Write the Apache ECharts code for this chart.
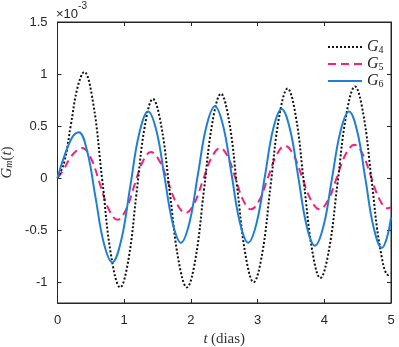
<!DOCTYPE html>
<html>
<head>
<meta charset="utf-8">
<script src="https://cdn.jsdelivr.net/npm/echarts@6/dist/echarts.min.js"></script>
<style>
  html, body { margin: 0; padding: 0; background: #fff; }
  #main { width: 399px; height: 347px; }
</style>
</head>
<body>
<div id="main"></div>
<script>
// valores en unidades de 1e-3, [t (dias), G]
var g4 = [
  [0,0],[0.1,0.15],[0.2,0.51],[0.3,0.87],[0.4,1.02],
  [0.535,0.72],[0.67,-0.015],[0.805,-0.75],[0.94,-1.05],
  [1.063,-0.785],[1.185,-0.145],[1.308,0.495],[1.43,0.76],
  [1.558,0.495],[1.685,-0.145],[1.813,-0.785],[1.94,-1.05],
  [2.068,-0.778],[2.195,-0.12],[2.323,0.538],[2.45,0.81],
  [2.573,0.545],[2.695,-0.095],[2.818,-0.735],[2.94,-1.0],
  [3.068,-0.728],[3.195,-0.07],[3.323,0.588],[3.45,0.86],
  [3.573,0.593],[3.695,-0.05],[3.818,-0.693],[3.94,-0.96],
  [4.07,-0.69],[4.2,-0.04],[4.33,0.61],[4.46,0.88],
  [4.585,0.615],[4.71,-0.025],[4.835,-0.665],[4.96,-0.93],
  [5,-0.915]
];
var g5 = [
  [0,0],[0.09,0.08],[0.185,0.19],[0.28,0.26],[0.37,0.29],
  [0.503,0.189],[0.635,-0.055],[0.768,-0.299],[0.9,-0.4],
  [1.025,-0.305],[1.15,-0.075],[1.275,0.155],[1.4,0.25],
  [1.53,0.164],[1.66,-0.043],[1.79,-0.249],[1.92,-0.335],
  [2.05,-0.243],[2.18,-0.023],[2.31,0.198],[2.44,0.29],
  [2.555,0.204],[2.67,-0.005],[2.785,-0.214],[2.9,-0.3],
  [3.028,-0.211],[3.155,0.005],[3.283,0.221],[3.41,0.31],
  [3.54,0.221],[3.67,0.005],[3.8,-0.211],[3.93,-0.3],
  [4.06,-0.209],[4.19,0.01],[4.32,0.229],[4.45,0.32],
  [4.575,0.231],[4.7,0.015],[4.825,-0.201],[4.95,-0.29],
  [5,-0.28]
];
var g6 = [
  [0,0],[0.08,0.17],[0.16,0.31],[0.24,0.41],[0.32,0.44],
  [0.445,0.257],[0.57,-0.185],[0.695,-0.627],[0.82,-0.81],
  [0.955,-0.598],[1.09,-0.085],[1.225,0.428],[1.36,0.64],
  [1.483,0.455],[1.605,0.01],[1.728,-0.435],[1.85,-0.62],
  [1.978,-0.428],[2.105,0.035],[2.233,0.498],[2.36,0.69],
  [2.485,0.498],[2.61,0.035],[2.735,-0.428],[2.86,-0.62],
  [2.985,-0.432],[3.11,0.02],[3.235,0.477],[3.36,0.665],
  [3.485,0.472],[3.61,0.01],[3.735,-0.457],[3.86,-0.65],
  [3.988,-0.461],[4.115,-0.005],[4.243,0.451],[4.37,0.64],
  [4.494,0.448],[4.618,-0.015],[4.741,-0.478],[4.865,-0.67],
  [4.94,-0.57],[5,-0.38]
];
var yTicks = [-1, -0.5, 0, 0.5, 1, 1.5];
var nombres = ['G4', 'G5', 'G6'];

var ejeColor = '#262626';
var serif = '"Liberation Serif", "DejaVu Serif", serif';
var sans = '"Liberation Sans", Arial, sans-serif';

var chart = echarts.init(document.getElementById('main'));

chart.setOption({
  animation: false,
  grid: {
    left: 57.5, right: 8, top: 22, bottom: 44,
    outerBoundsMode: 'none',
    containLabel: false,
    show: true, borderColor: ejeColor, borderWidth: 1, backgroundColor: 'transparent'
  },
  legend: {
    orient: 'vertical',
    left: 322,
    top: 34,
    itemWidth: 34,
    itemHeight: 12,
    itemGap: 1,
    data: nombres,
    itemStyle: { opacity: 0 },
    formatter: function (n) {
      return '{g|G}{s|' + n.slice(1) + '}';
    },
    textStyle: {
      rich: {
        g: { fontFamily: serif, fontStyle: 'italic', fontSize: 16, color: '#222', verticalAlign: 'bottom', lineHeight: 16 },
        s: { fontFamily: serif, fontSize: 10, color: '#222', verticalAlign: 'bottom', lineHeight: 12 }
      }
    }
  },
  graphic: [{
    type: 'text',
    left: 56,
    top: 1,
    style: {
      text: '{a|×10}{b|-3}',
      rich: {
        a: { fontFamily: sans, fontSize: 13, fill: ejeColor, verticalAlign: 'bottom', lineHeight: 20 },
        b: { fontFamily: sans, fontSize: 10, fill: ejeColor, verticalAlign: 'top', lineHeight: 20 }
      }
    }
  }],
  xAxis: [{
    type: 'value',
    min: 0, max: 5, interval: 1,
    position: 'bottom',
    axisLine: { show: true, onZero: false, lineStyle: { color: ejeColor, width: 1 } },
    axisTick: { show: true, inside: true, length: 4, lineStyle: { color: ejeColor } },
    axisLabel: { color: ejeColor, fontFamily: sans, fontSize: 13, margin: 11 },
    splitLine: { show: false },
    name: '{i|t} {r|(dias)}',
    nameLocation: 'middle',
    nameGap: 21,
    nameTextStyle: {
      rich: {
        i: { fontFamily: serif, fontStyle: 'italic', fontSize: 15, color: '#333' },
        r: { fontFamily: serif, fontSize: 15, color: '#333' }
      }
    }
  }, {
    type: 'value',
    min: 0, max: 5, interval: 1,
    position: 'top',
    axisLine: { show: true, onZero: false, lineStyle: { color: ejeColor, width: 1 } },
    axisTick: { show: true, inside: true, length: 4, lineStyle: { color: ejeColor } },
    axisLabel: { show: false },
    splitLine: { show: false }
  }],
  yAxis: [{
    type: 'value',
    min: -1.2, max: 1.5,
    position: 'left',
    axisLine: { show: true, onZero: false, lineStyle: { color: ejeColor, width: 1 } },
    axisTick: { show: true, inside: true, length: 4, customValues: yTicks, lineStyle: { color: ejeColor } },
    axisLabel: { color: ejeColor, fontFamily: sans, fontSize: 13, margin: 10, customValues: yTicks },
    splitLine: { show: false },
    name: '{g|G}{s|m}{p|(}{g|t}{p|)}',
    nameLocation: 'middle',
    nameGap: 35,
    nameRotate: 90,
    nameTextStyle: {
      rich: {
        g: { fontFamily: serif, fontStyle: 'italic', fontSize: 15, color: '#333', verticalAlign: 'bottom', lineHeight: 16 },
        s: { fontFamily: serif, fontStyle: 'italic', fontSize: 10, color: '#333', verticalAlign: 'bottom', lineHeight: 12 },
        p: { fontFamily: serif, fontSize: 15, color: '#333', verticalAlign: 'bottom', lineHeight: 16 }
      }
    }
  }, {
    type: 'value',
    min: -1.2, max: 1.5,
    position: 'right',
    axisLine: { show: true, onZero: false, lineStyle: { color: ejeColor, width: 1 } },
    axisTick: { show: true, inside: true, length: 4, customValues: yTicks, lineStyle: { color: ejeColor } },
    axisLabel: { show: false },
    splitLine: { show: false }
  }],
  series: [{
    name: 'G4',
    type: 'line',
    data: g4,
    smooth: 0.4,
    showSymbol: false,
    symbol: 'none',
    lineStyle: { color: '#111', width: 2, type: [2, 2] },
    itemStyle: { color: '#111' },
    z: 3
  }, {
    name: 'G5',
    type: 'line',
    data: g5,
    smooth: 0.4,
    showSymbol: false,
    symbol: 'none',
    lineStyle: { color: '#fb1f78', width: 2, type: [8, 5] },
    itemStyle: { color: '#fb1f78' },
    z: 2
  }, {
    name: 'G6',
    type: 'line',
    data: g6,
    smooth: 0.4,
    showSymbol: false,
    symbol: 'none',
    lineStyle: { color: '#1f7fd8', width: 2 },
    itemStyle: { color: '#1f7fd8' },
    z: 4
  }, {
    // serie vacía para que se dibujen los ejes superior y derecho
    name: 'marco',
    type: 'line',
    xAxisIndex: 1,
    yAxisIndex: 1,
    data: [],
    symbol: 'none',
    silent: true
  }]
});
</script>
</body>
</html>
